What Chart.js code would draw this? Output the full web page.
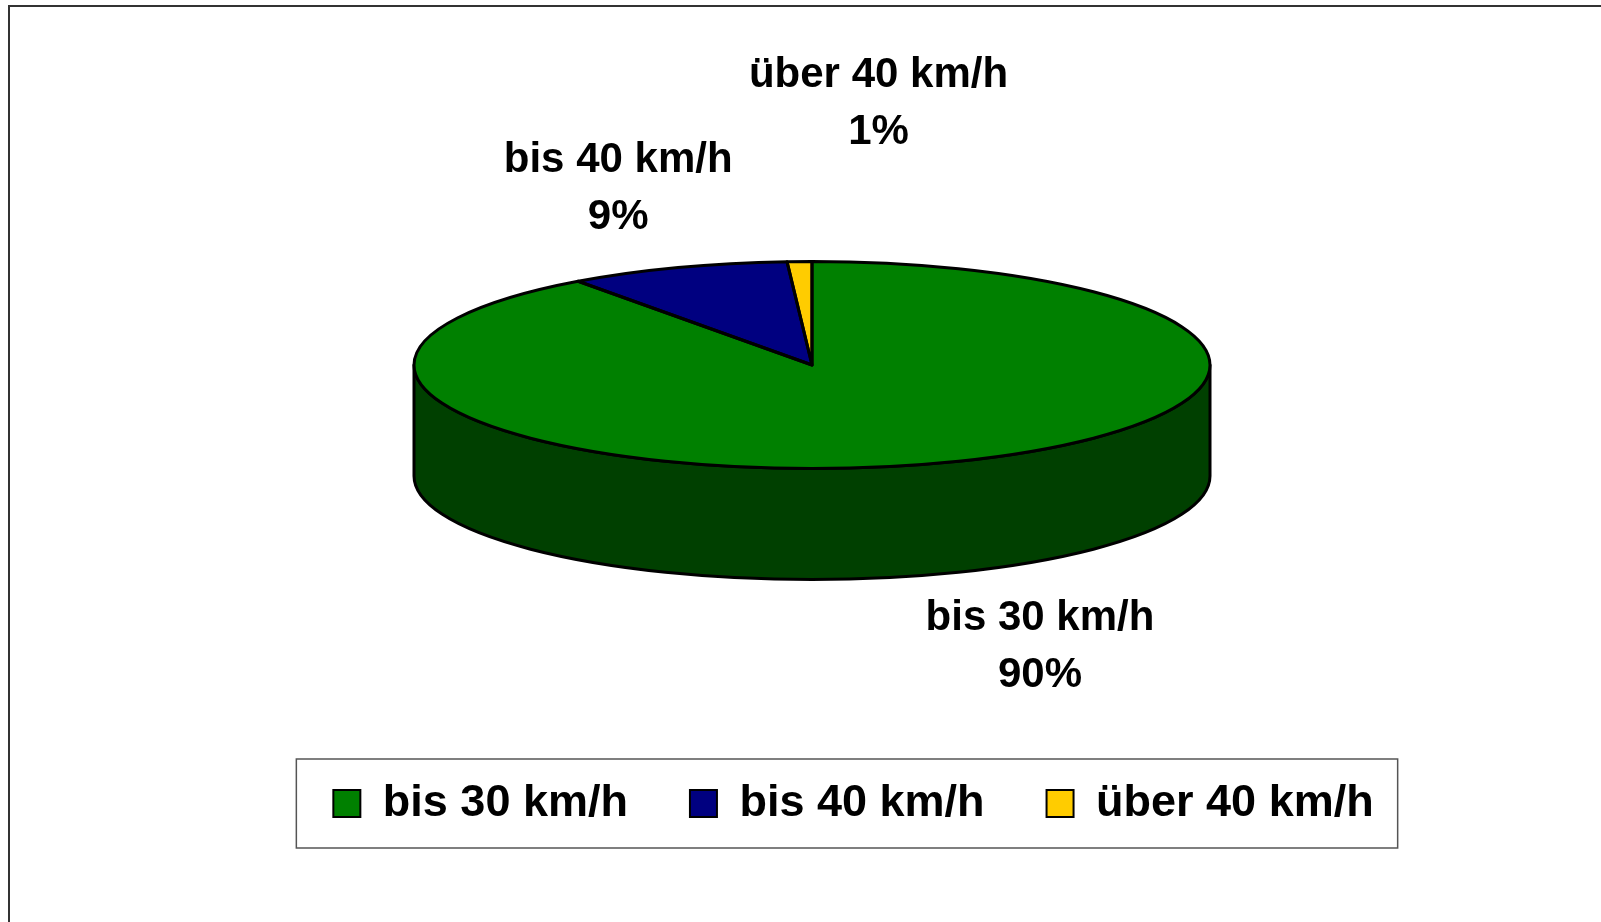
<!DOCTYPE html>
<html>
<head>
<meta charset="utf-8">
<script src="https://cdn.jsdelivr.net/npm/chart.js@4"></script>
<style>
  html, body { margin: 0; padding: 0; background: #ffffff; }
  #wrap { position: relative; width: 1601px; height: 922px; }
  canvas { display: block; }
</style>
</head>
<body>
<div id="wrap"><canvas id="c" width="1601" height="922"></canvas></div>
<script>
// ---- data ----
const categories = ['bis 30 km/h', 'bis 40 km/h', 'über 40 km/h'];
const shares = [90, 9, 1];
const percentLabels = ['90%', '9%', '1%'];

// ---- styles ----
const topColors = ['#008000', '#000080', '#FFCC00'];
const sideColors = ['#004000', '#000040', '#806600'];
const FONT_FAMILY = "'Liberation Sans', Arial, Helvetica, sans-serif";

// 3D pie plugin: squashes the library's pie arcs into an ellipse and adds depth
const pie3d = {
  id: 'pie3d',
  _geom(chart, opts) {
    const meta = chart.getDatasetMeta(0);
    const a = meta.data[0];
    const R = a.outerRadius, ox = a.x, oy = a.y;
    return { meta, R, ox, oy, sx: opts.rx / R, sy: opts.ry / R };
  },
  beforeDatasetsDraw(chart, args, opts) {
    const ctx = chart.ctx;
    const g = this._geom(chart, opts);
    const {cx, cy, rx, ry, depth} = opts;
    // side walls (front half only)
    g.meta.data.forEach((arc, i) => {
      const s = arc.startAngle, e = arc.endAngle;
      for (let k = -1; k <= 1; k++) {
        const lo = Math.max(s, 2 * Math.PI * k);
        const hi = Math.min(e, 2 * Math.PI * k + Math.PI);
        if (hi > lo) {
          ctx.save();
          ctx.beginPath();
          ctx.ellipse(cx, cy, rx, ry, 0, lo, hi, false);
          ctx.ellipse(cx, cy + depth, rx, ry, 0, hi, lo, true);
          ctx.closePath();
          ctx.fillStyle = sideColors[i];
          ctx.fill();
          ctx.lineWidth = opts.lineWidth;
          ctx.lineJoin = 'round';
          ctx.strokeStyle = '#000';
          ctx.stroke();
          ctx.restore();
        }
      }
    });
    // transform so that the library draws the top faces as an ellipse
    ctx.save();
    ctx.setTransform(g.sx, 0, 0, g.sy, cx - g.ox * g.sx, cy - g.oy * g.sy);
  },
  afterDatasetsDraw(chart, args, opts) {
    const ctx = chart.ctx;
    ctx.restore();
    const g = this._geom(chart, opts);
    const {cx, cy} = opts;
    g.meta.data.forEach((arc) => {
      ctx.save();
      ctx.setTransform(g.sx, 0, 0, g.sy, cx - g.ox * g.sx, cy - g.oy * g.sy);
      ctx.beginPath();
      ctx.moveTo(arc.x, arc.y);
      ctx.arc(arc.x, arc.y, arc.outerRadius, arc.startAngle, arc.endAngle);
      ctx.closePath();
      ctx.restore();
      ctx.save();
      ctx.lineWidth = opts.lineWidth;
      ctx.lineJoin = 'round';
      ctx.strokeStyle = '#000';
      ctx.stroke();
      ctx.restore();
    });
    // data labels
    const {rx, ry, depth, labelOffsets, labelFont, lineGap} = opts;
    ctx.save();
    ctx.font = labelFont;
    ctx.fillStyle = '#000';
    ctx.textAlign = 'center';
    ctx.textBaseline = 'alphabetic';
    g.meta.data.forEach((arc, i) => {
      const m = (arc.startAngle + arc.endAngle) / 2;
      let ax = cx + rx * Math.cos(m);
      let ay = cy + ry * Math.sin(m);
      if (Math.sin(m) > 0) ay += depth;
      const x = ax + labelOffsets[i][0];
      const y = ay + labelOffsets[i][1];
      ctx.fillText(categories[i], x, y - lineGap / 2);
      ctx.fillText(percentLabels[i], x, y + lineGap / 2);
    });
    ctx.restore();
  },
  afterDraw(chart, args, opts) {
    const ctx = chart.ctx;
    ctx.save();
    // outer chart frame
    ctx.strokeStyle = '#333333';
    ctx.lineWidth = 2;
    ctx.beginPath();
    ctx.moveTo(9, 930);
    ctx.lineTo(9, 6);
    ctx.lineTo(1610, 6);
    ctx.stroke();
    // legend frame
    const lg = chart.legend;
    const hb = lg.legendHitBoxes;
    const left = hb[0].left - 37, right = hb[hb.length - 1].left + hb[hb.length - 1].width + 24;
    const midY = hb[0].top + hb[0].height / 2;
    ctx.strokeStyle = '#555555';
    ctx.lineWidth = 1.5;
    ctx.strokeRect(left, midY - 44.5, right - left, 89);
    ctx.restore();
  }
};

const baseLabels = Chart.overrides.pie.plugins.legend.labels.generateLabels;

new Chart(document.getElementById('c'), {
  type: 'pie',
  data: {
    labels: categories,
    datasets: [{
      data: shares,
      backgroundColor: topColors,
      borderWidth: 0,
      clip: false
    }]
  },
  options: {
    responsive: false,
    animation: false,
    events: [],
    layout: { padding: { left: 106, right: 0, top: 20, bottom: 86 } },
    plugins: {
      tooltip: { enabled: false },
      legend: {
        position: 'bottom',
        labels: {
          font: { family: FONT_FAMILY, size: 45, weight: 'bold' },
          color: '#000',
          boxWidth: 27,
          boxHeight: 27,
          padding: 62,
          generateLabels(chart) {
            return baseLabels(chart).map(l => Object.assign(l, { lineWidth: 2, strokeStyle: '#000' }));
          }
        }
      },
      pie3d: {
        cx: 812, cy: 365, rx: 398, ry: 103.5, depth: 111, lineWidth: 3,
        labelFont: 'bold 42px ' + FONT_FAMILY,
        lineGap: 57,
        labelOffsets: [[105, 84], [-59, -67.5], [79, -146.5]]
      }
    }
  },
  plugins: [pie3d]
});
</script>
</body>
</html>
